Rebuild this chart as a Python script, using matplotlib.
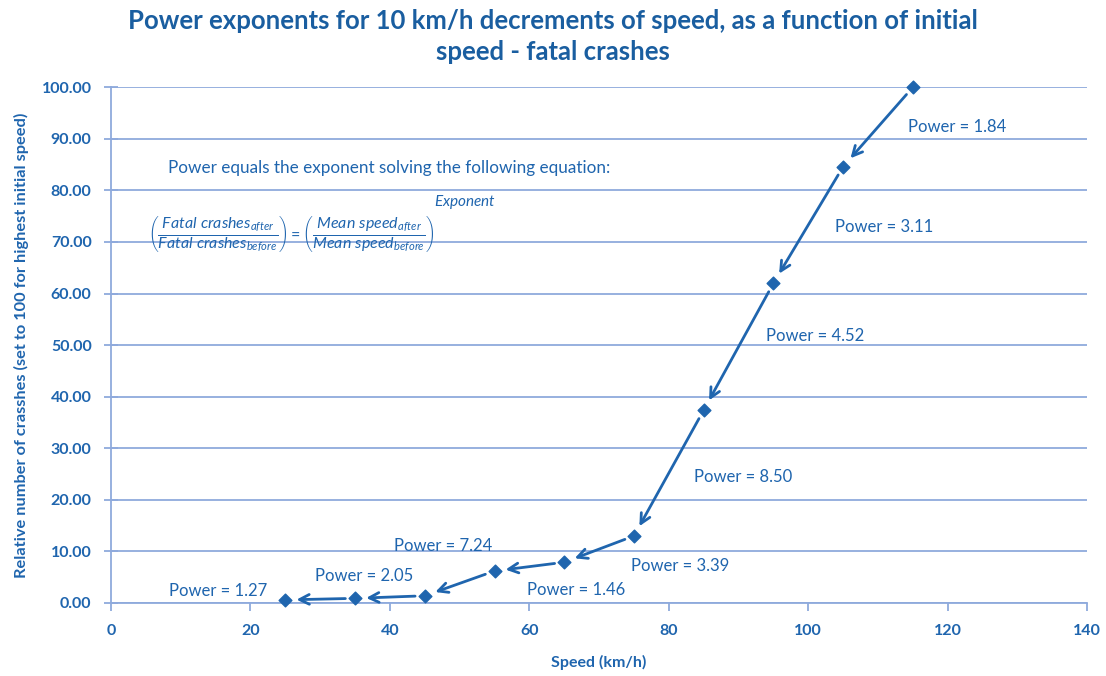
import matplotlib
matplotlib.use("Agg")
import matplotlib.pyplot as plt

speed = [115, 105, 95, 85, 75, 65, 55, 45, 35, 25]
relative_crashes = [100.0, 84.6, 62.0, 37.4, 13.0, 7.9, 6.2, 1.4, 0.9, 0.6]
power_labels = ["Power = 1.84", "Power = 3.11", "Power = 4.52", "Power = 8.50",
                "Power = 3.39", "Power = 1.46", "Power = 7.24", "Power = 2.05",
                "Power = 1.27"]
label_x = [121.4, 110.9, 101.0, 90.7, 81.6, 66.7, 47.6, 36.3, 15.4]
label_y = [92.2, 72.9, 51.7, 24.4, 7.2, 2.5, 11.0, 5.2, 2.3]
x_ticks = [0, 20, 40, 60, 80, 100, 120, 140]
y_ticks = [0, 10, 20, 30, 40, 50, 60, 70, 80, 90, 100]

plt.rcParams['font.family'] = ['Lato', 'DejaVu Sans']
plt.rcParams['mathtext.fontset'] = 'custom'
plt.rcParams['mathtext.it'] = 'Lato:italic'
plt.rcParams['mathtext.rm'] = 'Lato'
blue = '#1F65AE'
grid_c = '#8FAADC'

fig = plt.figure(figsize=(11.06, 6.76), dpi=100)
ax = fig.add_axes([0.1004, 0.108, 0.8826, 0.763])

ax.scatter(speed, relative_crashes, marker='D', s=42, color=blue, zorder=4,
           clip_on=False)
for i in range(len(speed) - 1):
    ax.annotate('', xy=(speed[i + 1], relative_crashes[i + 1]),
                xytext=(speed[i], relative_crashes[i]),
                arrowprops=dict(arrowstyle='->,head_length=0.7,head_width=0.35',
                                color=blue, lw=2, shrinkA=7, shrinkB=8),
                zorder=3)
for t, lx, ly in zip(power_labels, label_x, label_y):
    ax.text(lx, ly, t, ha='center', va='center', fontsize=12, color=blue)

ax.text(8.2, 84.3, 'Power equals the exponent solving the following equation:',
        fontsize=12.3, color=blue, va='center', ha='left')
eq = (r'$\left(\dfrac{\mathit{Fatal\ crashes}_{\mathit{after}}}'
      r'{\mathit{Fatal\ crashes}_{\mathit{before}}}\right) = '
      r'\left(\dfrac{\mathit{Mean\ speed}_{\mathit{after}}}'
      r'{\mathit{Mean\ speed}_{\mathit{before}}}\right)$')
ax.text(5.3, 71.5, eq, fontsize=11.5, color=blue, va='center', ha='left')
ax.text(46.3, 77.8, r'$\mathit{Exponent}$', fontsize=11, color=blue,
        va='center', ha='left')

ax.set_xlim(0, 140)
ax.set_ylim(0, 100)
ax.set_xticks(x_ticks)
ax.set_yticks(y_ticks)
ax.set_yticklabels([f'{v:.2f}' for v in y_ticks])
ax.yaxis.grid(True, color=grid_c, lw=1.3)
ax.set_axisbelow(True)
for s in ['top', 'right']:
    ax.spines[s].set_visible(False)
for s in ['left', 'bottom']:
    ax.spines[s].set_color(grid_c)
    ax.spines[s].set_linewidth(1.3)
ax.tick_params(axis='both', colors=grid_c, width=1.3, length=6, labelsize=11.5,
               labelcolor=blue, pad=9)
ax.tick_params(axis='y', direction='inout', length=10)
for lab in ax.get_xticklabels() + ax.get_yticklabels():
    lab.set_fontweight('bold')

ax.set_xlabel('Speed (km/h)', fontsize=11.5, fontweight='bold', color=blue, labelpad=12)
ax.set_ylabel('Relative number of crasshes (set to 100 for highest initial speed)',
              fontsize=11.8, fontweight='bold', color=blue, labelpad=9)
fig.text(0.5, 0.946, 'Power exponents for 10 km/h decrements of speed, as a function of initial\nspeed - fatal crashes',
         ha='center', va='center', fontsize=18.5, fontweight='bold', color='#1A5EA0',
         linespacing=1.35)

fig.savefig('out.png', dpi=100)
